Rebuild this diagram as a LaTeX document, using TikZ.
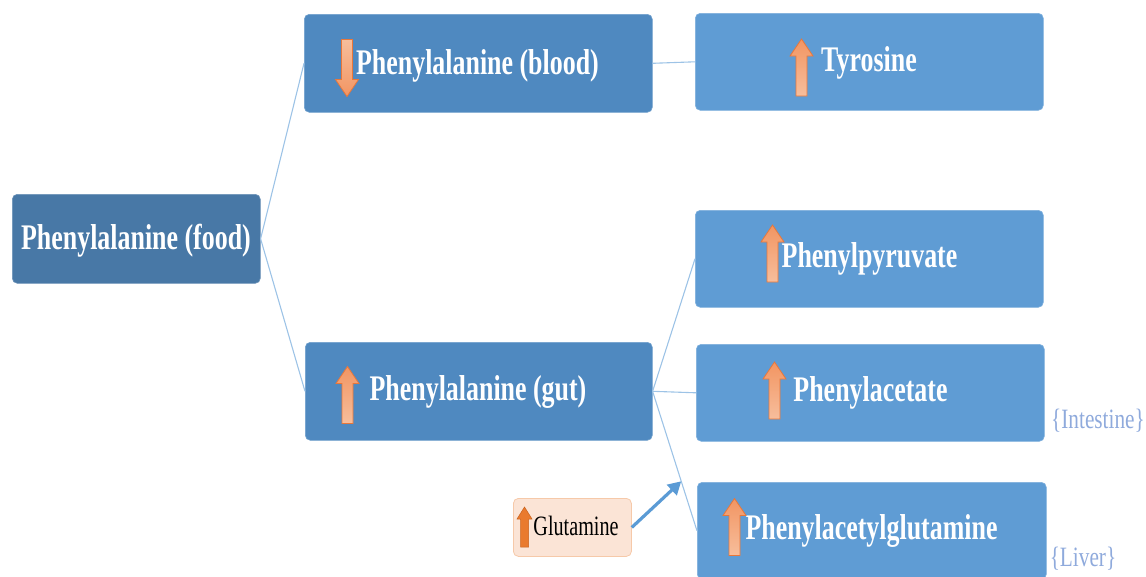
\documentclass[tikz,border=0pt]{standalone}
\usepackage{fontspec}
\setmainfont{Liberation Serif}
\newfontfamily\boxfont[FakeStretch=0.72]{Liberation Serif}
\newfontfamily\notefont[FakeStretch=0.76]{Liberation Serif}
\usetikzlibrary{arrows.meta,calc}
\definecolor{fooda}{HTML}{4878A6}
\definecolor{midb}{HTML}{4F89C0}
\definecolor{rightb}{HTML}{5F9CD4}
\definecolor{linkblue}{HTML}{9DC3E6}
\definecolor{glufill}{HTML}{FBE4D6}
\definecolor{gluedge}{HTML}{F6C9A9}
\definecolor{oDark}{HTML}{F29562}
\definecolor{oLight}{HTML}{F7BE9C}
\definecolor{oEdge}{HTML}{E8773A}
\definecolor{oSolid}{HTML}{E97A2E}
\definecolor{oSolidEdge}{HTML}{C9621C}
\definecolor{notecol}{HTML}{8FAADC}
\definecolor{arrblue}{HTML}{5B9BD5}
\tikzset{
  boxbase/.style={rectangle, rounded corners=5pt, inner sep=0pt, anchor=north west, line width=0.6pt},
  foodbox/.style={boxbase, fill=fooda, draw=fooda!80!white},
  midbox/.style={boxbase, fill=midb, draw=midb!80!white},
  rightbox/.style={boxbase, fill=rightb, draw=rightb!80!white},
  glubox/.style={boxbase, fill=glufill, draw=gluedge, line width=0.8pt},
  lbl/.style={font=\boxfont\bfseries\fontsize{36}{40}\selectfont, text=white, anchor=base, inner sep=0pt},
  glulbl/.style={font=\boxfont\fontsize{28}{30}\selectfont, text=black, anchor=base, inner sep=0pt},
  note/.style={font=\notefont\fontsize{28}{32}\selectfont, text=notecol, anchor=base, inner sep=0pt},
  link/.style={draw=linkblue, line width=1.1pt},
  uparr/.pic={\draw[draw=oEdge, line width=0.8pt, top color=oDark, bottom color=oLight]
     (-5.5,28.5) -- (-5.5,-11.5) -- (-11.5,-11.5) -- (0,-28.5) -- (11.5,-11.5) -- (5.5,-11.5) -- (5.5,28.5) -- cycle;},
  downarr/.pic={\draw[draw=oEdge, line width=0.8pt, top color=oLight, bottom color=oDark]
     (-5.5,-28.5) -- (-5.5,11.5) -- (-11.5,11.5) -- (0,28.5) -- (11.5,11.5) -- (5.5,11.5) -- (5.5,-28.5) -- cycle;},
  smallarr/.pic={\draw[draw=oSolidEdge, line width=0.5pt, fill=oSolid]
     (-4,20) -- (-4,-8) -- (-7.5,-8) -- (0,-20) -- (7.5,-8) -- (4,-8) -- (4,20) -- cycle;},
}
\begin{document}
\begin{tikzpicture}[x=1pt,y=-1pt]
\useasboundingbox (0,0) rectangle (1146,576);
% boxes
\node[foodbox, minimum width=248pt, minimum height=89pt] (food) at (12,194) {};
\node[midbox, minimum width=348pt, minimum height=98pt] (blood) at (304,14) {};
\node[midbox, minimum width=347pt, minimum height=98pt] (gut) at (305,342) {};
\node[rightbox, minimum width=348pt, minimum height=97pt] (tyr) at (695,13) {};
\node[rightbox, minimum width=348pt, minimum height=97pt] (pyr) at (695,210) {};
\node[rightbox, minimum width=348pt, minimum height=97pt] (acet) at (696,344) {};
\node[rightbox, minimum width=349pt, minimum height=97pt] (pag) at (697,482) {};
\node[glubox, minimum width=118pt, minimum height=58pt] (glu) at (513,498) {};
% connectors
\draw[link] (food.east) -- (blood.west);
\draw[link] (food.east) -- (gut.west);
\draw[link] (blood.east) -- (tyr.west);
\draw[link] (gut.east) -- (pyr.west);
\draw[link] (gut.east) -- (acet.west);
\draw[link] (gut.east) -- (pag.west);
\coordinate (meet) at ($(gut.east)!0.645!(pag.west)$);
\draw[draw=arrblue, line width=3.2pt, -{Triangle[length=13pt,width=14pt]}] (glu.east) -- (meet);
% labels
\node[lbl] (tfood) at (136,249) {Phenylalanine (food)};
\node[lbl] (tblood) at (477.5,74) {Phenylalanine (blood)};
\node[lbl] (ttyr) at (869,71) {Tyrosine};
\node[lbl] (tgut) at (478,400) {Phenylalanine (gut)};
\node[lbl] (tpyr) at (869.5,267) {Phenylpyruvate};
\node[lbl] (tacet) at (870.5,401) {Phenylacetate};
\node[lbl] (tpag) at (871.5,539) {Phenylacetylglutamine};
\node[glulbl] (tglu) at (576,535) {Glutamine};
\node[note] (tint) at (1098,428) {\{Intestine\}};
\node[note] (tliv) at (1083,566) {\{Liver\}};
% orange arrows
\pic at (347,68) {downarr};
\pic at (801.5,67.5) {uparr};
\pic at (347.5,395) {uparr};
\pic at (772.5,253.5) {uparr};
\pic at (774.5,390.5) {uparr};
\pic at (734.5,527) {uparr};
\pic at (524.5,527) {smallarr};
\end{tikzpicture}
\end{document}
